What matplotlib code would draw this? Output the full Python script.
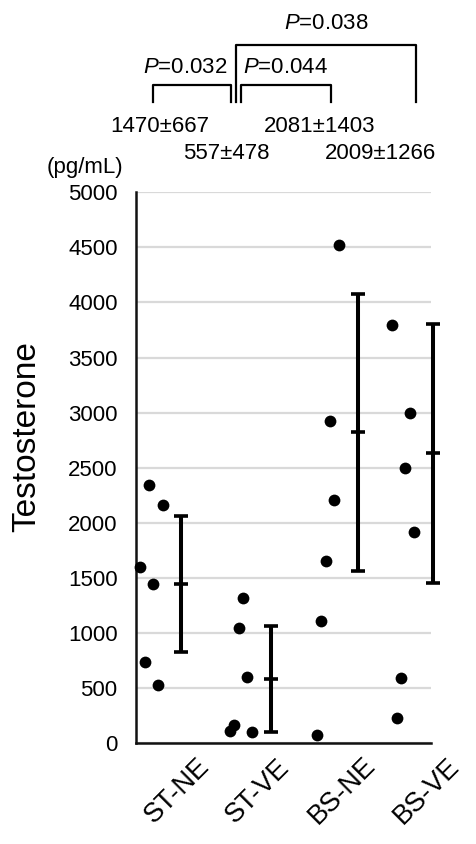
import matplotlib
matplotlib.use("Agg")
import matplotlib.pyplot as plt
from matplotlib.lines import Line2D

plt.rcParams['font.family'] = ['Liberation Sans', 'DejaVu Sans']
plt.rcParams['mathtext.fontset'] = 'custom'
plt.rcParams['mathtext.it'] = 'Liberation Sans:italic'
plt.rcParams['mathtext.rm'] = 'Liberation Sans'

# ---- data ----
groups = ["ST-NE", "ST-VE", "BS-NE", "BS-VE"]
st_ne_vals = [1600, 2345, 1450, 2160, 735, 530]
st_ne_x = [0.058, 0.184, 0.239, 0.366, 0.122, 0.302]
st_ve_vals = [1321, 1046, 600, 169, 114, 102]
st_ve_x = [1.451, 1.397, 1.513, 1.333, 1.279, 1.573]
bs_ne_vals = [4522, 2208, 2925, 1654, 1113, 75]
bs_ne_x = [2.749, 2.690, 2.627, 2.573, 2.515, 2.456]
bs_ve_vals = [3796, 2994, 2495, 1920, 590, 227]
bs_ve_x = [3.475, 3.710, 3.651, 3.764, 3.593, 3.534]
bar_means = [1446, 580, 2822, 2632]
bar_sds = [616, 480, 1256, 1174]
bar_x = [0.614, 1.835, 3.010, 4.030]
summary_text = ["1470±667", "557±478", "2081±1403", "2009±1266"]
p_labels = ["0.032", "0.044", "0.038"]
yticks = [0, 500, 1000, 1500, 2000, 2500, 3000, 3500, 4000, 4500, 5000]

W, H, DPI = 477, 844, 100
fig = plt.figure(figsize=(W / DPI, H / DPI), dpi=DPI)
ax = fig.add_axes([0.2845, 0.1193, 0.619, 0.6529])
ax.set_xlim(0, 4)
ax.set_ylim(0, 5000)

for xs, vs in [(st_ne_x, st_ne_vals), (st_ve_x, st_ve_vals),
               (bs_ne_x, bs_ne_vals), (bs_ve_x, bs_ve_vals)]:
    ax.scatter(xs, vs, s=72, color='black', zorder=3, clip_on=False, linewidths=0)

ax.errorbar(bar_x, bar_means, yerr=bar_sds, fmt='_', color='black',
            ms=10, mew=2.6, elinewidth=2.9, capsize=5.0, capthick=2.6,
            zorder=3, clip_on=False)

ax.set_yticks(yticks)
ax.set_yticklabels([str(t) for t in yticks], fontsize=16)
ax.tick_params(axis='y', length=0, pad=13)
ax.set_xticks([])
ax.grid(axis='y', color='#d9d9d9', linewidth=1.6)
ax.set_axisbelow(True)
for s in ['top', 'right']:
    ax.spines[s].set_visible(False)
for s in ['left', 'bottom']:
    ax.spines[s].set_linewidth(1.8)
    ax.spines[s].set_color('#111111')

# x category labels (rotated)
label_x = [0.56, 1.645, 2.80, 3.94]
for lx, g in zip(label_x, groups):
    ax.text(lx, -433, g, rotation=45, ha='center', va='center',
            fontsize=19.5, clip_on=False)

# y label and unit
fig.text(27 / W, 1 - 437 / H, "Testosterone", rotation=90, ha='center',
         va='center', fontsize=24)
ax.text(-0.687, 5225, "(pg/mL)", ha='center', va='center', fontsize=16, clip_on=False)

# mean ± SD texts
sum_pos = [(0.33, 5595), (1.224, 5348), (2.486, 5595), (3.313, 5348)]
for (tx, ty), t in zip(sum_pos, summary_text):
    ax.text(tx, ty, t, ha='center', va='center', fontsize=16, clip_on=False)

# significance brackets
def bracket(x0, x1, ytop, ybot):
    ax.add_line(Line2D([x0, x0, x1, x1], [ybot, ytop, ytop, ybot],
                       color='black', lw=1.6, clip_on=False))

bracket(0.23, 1.288, 5974, 5822)
bracket(1.424, 2.644, 5974, 5822)
bracket(1.36, 3.797, 6337, 5822)

p_pos = [(0.668, 6128), (2.03, 6128), (2.58, 6528)]
for (tx, ty), p in zip(p_pos, p_labels):
    ax.text(tx, ty, r"$\it{P}$" + "=" + p, ha='center', va='center',
            fontsize=16, clip_on=False)

fig.savefig("out.png", dpi=DPI)
